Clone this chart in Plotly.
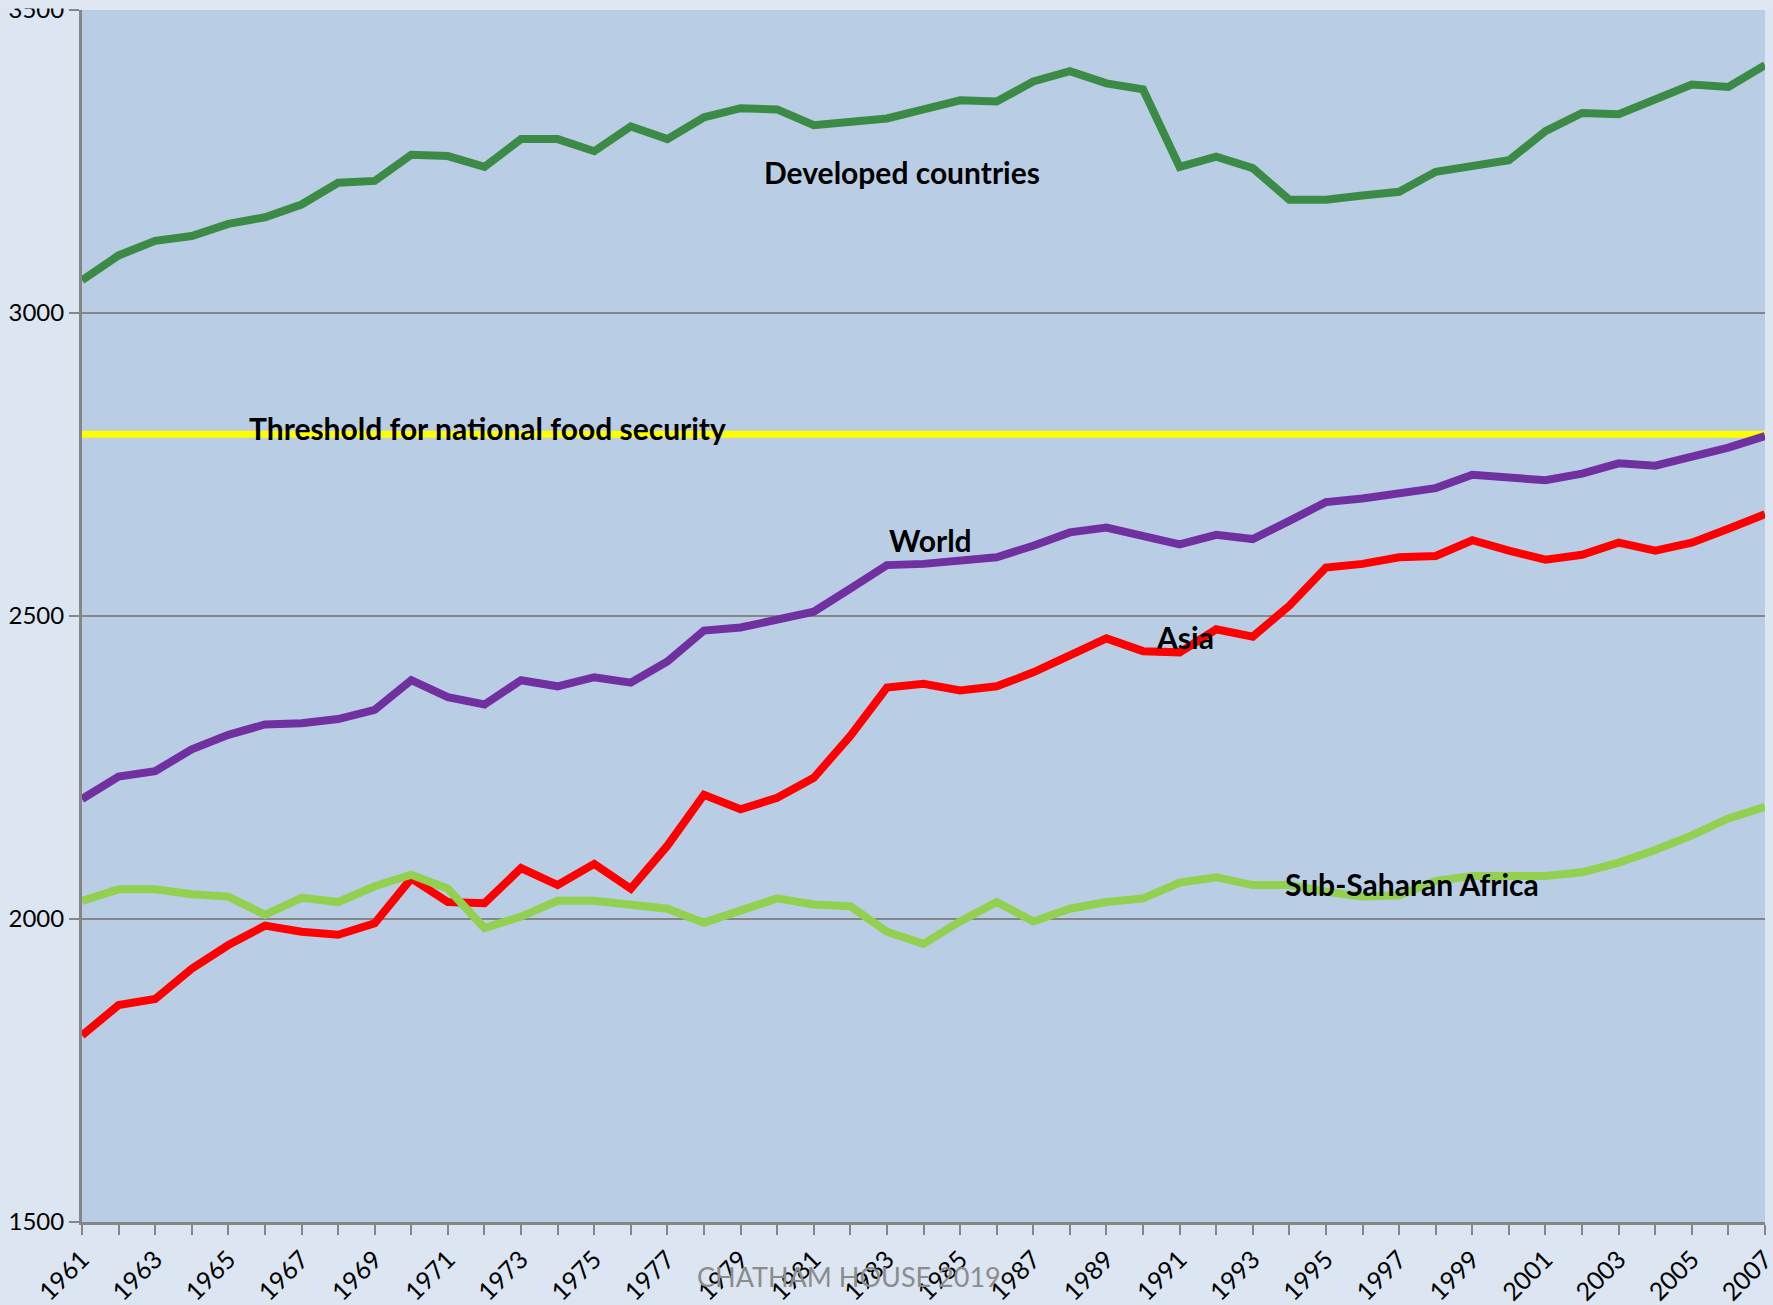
import plotly.graph_objects as go

years = list(range(1961, 2008))

developed = [3054, 3095, 3119, 3127, 3147, 3158, 3179, 3215, 3218, 3261,
             3259, 3241, 3287, 3287, 3267, 3308, 3287, 3323, 3338, 3336,
             3310, 3315, 3321, 3336, 3351, 3349, 3382, 3399, 3379, 3369,
             3241, 3258, 3239, 3187, 3187, 3194, 3200, 3233, 3244, 3252,
             3300, 3330, 3328, 3354, 3377, 3373, 3409]

world = [2198, 2235, 2244, 2280, 2304, 2321, 2323, 2330, 2345, 2394,
         2366, 2354, 2394, 2384, 2399, 2390, 2425, 2476, 2481, 2493,
         2507, 2545, 2584, 2586, 2593, 2597, 2616, 2638, 2646, 2631,
         2618, 2634, 2627, 2657, 2688, 2694, 2703, 2711, 2733, 2728,
         2724, 2735, 2752, 2748, 2763, 2778, 2797]

asia = [1808, 1858, 1868, 1918, 1957, 1989, 1979, 1974, 1993, 2067,
        2028, 2026, 2084, 2056, 2091, 2050, 2121, 2205, 2181, 2200,
        2233, 2302, 2382, 2388, 2377, 2384, 2407, 2435, 2463, 2442,
        2440, 2478, 2466, 2517, 2580, 2586, 2597, 2599, 2625, 2608,
        2593, 2601, 2621, 2608, 2621, 2644, 2668]

ssa = [2030, 2049, 2049, 2041, 2037, 2007, 2035, 2028, 2054, 2073,
       2050, 1985, 2004, 2030, 2030, 2022, 2017, 1994, 2015, 2034,
       2024, 2021, 1979, 1959, 1996, 2028, 1996, 2017, 2028, 2034,
       2060, 2069, 2056, 2056, 2045, 2037, 2039, 2063, 2071, 2071,
       2071, 2077, 2093, 2114, 2138, 2166, 2185]

threshold = 2800
tick_years = list(range(1961, 2008, 2))

series = [
    ("Developed countries", developed, "#3b8a45"),
    ("World", world, "#7030a0"),
    ("Asia", asia, "#ff0000"),
    ("Sub-Saharan Africa", ssa, "#92d050"),
]

fig = go.Figure()

fig.add_trace(go.Scatter(x=[years[0], years[-1]], y=[threshold, threshold],
                         mode="lines", line=dict(color="#ffff00", width=7),
                         showlegend=False, hoverinfo="skip"))

for name, vals, col in series:
    fig.add_trace(go.Scatter(x=years, y=vals, mode="lines", name=name,
                             line=dict(color=col, width=8), showlegend=False))

labels = [
    ("Developed countries", 1983.4, 3233, "center"),
    ("Threshold for national food security", 1965.5, 2810, "left"),
    ("World", 1984.2, 2625, "center"),
    ("Asia", 1991.15, 2466, "center"),
    ("Sub-Saharan Africa", 1997.35, 2058, "center"),
]
for txt, x, y, anc in labels:
    fig.add_annotation(x=x, y=y, text="<b>%s</b>" % txt, showarrow=False,
                       xanchor=anc, yanchor="middle",
                       font=dict(family="Lato", size=30, color="black"))

fig.add_annotation(x=0.456, y=-0.045, xref="paper", yref="paper",
                   text="CHATHAM HOUSE 2019", showarrow=False,
                   xanchor="center", yanchor="middle",
                   font=dict(family="Lato", size=27, color="#8c8c8c"))

# light strip at the very top of the image (crop edge in the original)
fig.add_shape(type="rect", xref="paper", yref="paper",
              x0=-0.1, x1=1.1, y0=1.0 + 1.5 / 1212, y1=1.0 + 12 / 1212,
              fillcolor="#dfe7f2", line=dict(width=0), layer="above")

fig.update_layout(
    width=1773, height=1305,
    margin=dict(l=82, r=8, t=10, b=83),
    paper_bgcolor="#dce6f2",
    plot_bgcolor="#b9cde5",
    font=dict(family="Lato", size=24, color="black"),
    xaxis=dict(range=[1961, 2007], tickmode="array", tickvals=tick_years,
               ticktext=[str(y) for y in tick_years], tickangle=-45,
               showgrid=False, showline=True, linecolor="#868686", linewidth=3,
               ticks="outside", ticklen=10, tickwidth=2, tickcolor="#868686",
               minor=dict(ticks="outside", dtick=1, tick0=1961, ticklen=10,
                          tickwidth=2, tickcolor="#868686", showgrid=False),
               tickfont=dict(family="Lato", size=25, color="black"),
               ticklabeloverflow="allow", automargin=False,
               zeroline=False),
    yaxis=dict(range=[1500, 3500], dtick=500, tick0=1500,
               showgrid=True, gridcolor="#868686", gridwidth=2,
               showline=True, linecolor="#868686", linewidth=3,
               ticks="outside", ticklen=10, tickwidth=2, tickcolor="#868686",
               tickfont=dict(family="Lato", size=24, color="black"),
               ticklabeloverflow="allow", automargin=False,
               zeroline=False),
)

fig.write_html("out.html",
               config={"displayModeBar": False},
               post_script="document.body.style.margin='0';"
                           "document.body.style.overflow='hidden';")
